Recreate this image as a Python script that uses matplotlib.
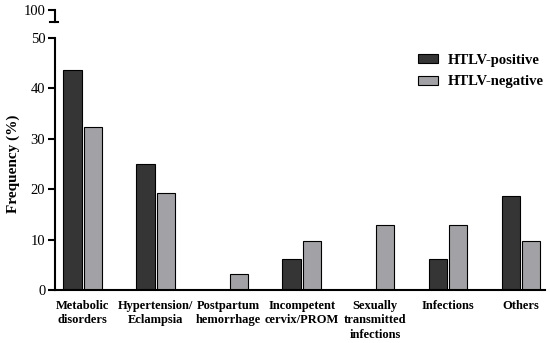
import numpy as np
import matplotlib.pyplot as plt
from matplotlib.patches import Patch

categories = ['Metabolic\ndisorders', 'Hypertension/\nEclampsia', 'Postpartum\nhemorrhage',
              'Incompetent\ncervix/PROM', 'Sexually\ntransmitted\ninfections', 'Infections', 'Others']
positive = [43.75, 25.0, 0.0, 6.25, 0.0, 6.25, 18.75]
negative = [32.26, 19.35, 3.23, 9.68, 12.90, 12.90, 9.68]
series = ['HTLV-positive', 'HTLV-negative']
colors = ['#353535', '#a2a2a6']

plt.rcParams['font.family'] = ['Liberation Serif', 'DejaVu Serif']

fig = plt.figure(figsize=(5.5, 3.43), dpi=100)
ax = fig.add_axes([0.1, 0.1545, 0.891, 0.7345])
ax_top = fig.add_axes([0.1, 0.936, 0.891, 0.035])

x = np.arange(len(categories))
w = 0.25
ax.bar(x - w/2 - 0.015, positive, w, color=colors[0], edgecolor='black', linewidth=0.8)
ax.bar(x + w/2 + 0.015, negative, w, color=colors[1], edgecolor='black', linewidth=0.8)

ax.set_ylim(0, 50)
ax.set_xlim(-0.38, 6.33)
ax.set_yticks([0, 10, 20, 30, 40, 50])
ax.set_xticks(x)
ax.set_xticklabels(categories, fontweight='bold', fontsize=9, linespacing=1.3)
ax.tick_params(axis='x', length=0, pad=7)
ax.tick_params(axis='y', length=5, width=1.5, labelsize=10.5, pad=2)
for s in ['top', 'right']:
    ax.spines[s].set_visible(False)
for s in ['left', 'bottom']:
    ax.spines[s].set_linewidth(1.5)
ax.set_ylabel('Frequency (%)', fontweight='bold', fontsize=11, labelpad=8)

# broken axis piece with 100
ax_top.set_ylim(95, 100)
ax_top.set_xlim(ax.get_xlim())
ax_top.set_yticks([100])
ax_top.set_xticks([])
ax_top.patch.set_visible(False)
for s in ['top', 'right', 'bottom']:
    ax_top.spines[s].set_visible(False)
ax_top.spines['left'].set_linewidth(1.5)
ax_top.tick_params(axis='y', length=5, width=1.5, labelsize=10.5, pad=2)
ax_top.plot([-0.011, 0.007], [0, 0], transform=ax_top.transAxes, color='black',
            linewidth=1.5, clip_on=False)

handles = [Patch(facecolor=c, edgecolor='black', linewidth=0.8) for c in colors]
ax.legend(handles, series, loc='upper right', bbox_to_anchor=(1.025, 0.99), frameon=False,
          prop={'weight': 'bold', 'size': 10.5}, handlelength=1.4, handleheight=0.6,
          labelspacing=0.6, handletextpad=0.7)

fig.savefig('out.png', dpi=100)
